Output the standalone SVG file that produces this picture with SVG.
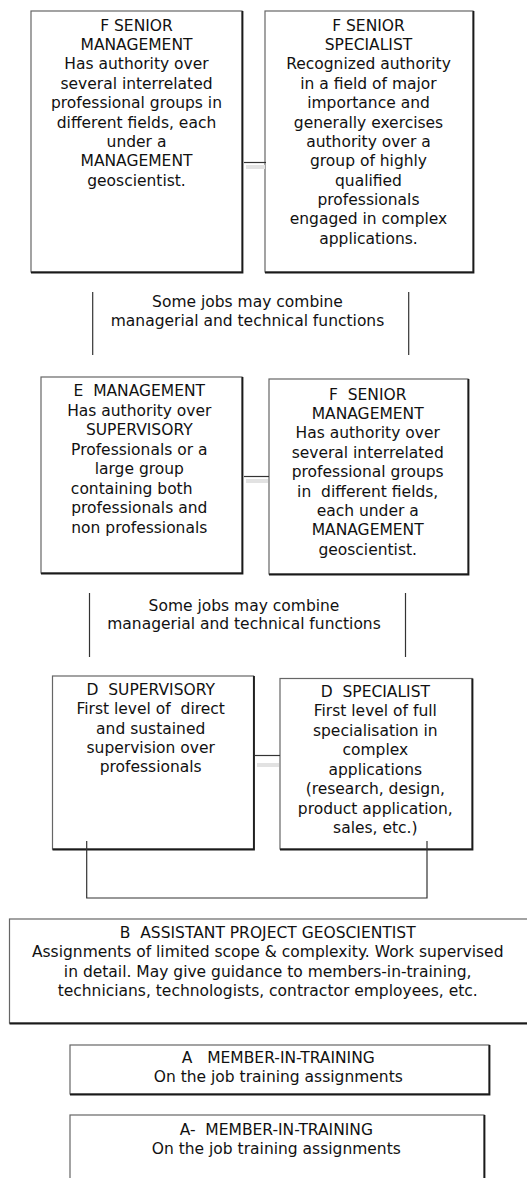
<svg xmlns="http://www.w3.org/2000/svg" width="527" height="1178" viewBox="0 0 527 1178">
<style>
  .box { fill: #ffffff; stroke: #666666; stroke-width: 1.2; }
  .edge { fill: none; stroke: #1a1a1a; stroke-width: 1.8; }
  .line { fill: none; stroke: #333333; stroke-width: 1.2; }
  .soft { fill: none; stroke: #e2e2e2; stroke-width: 4; }
  text { font-family: "DejaVu Sans", Verdana, sans-serif; font-size: 15.5px; fill: #111111; text-anchor: middle; white-space: pre; }
</style>
<rect width="527" height="1178" fill="#ffffff"/>

<g id="f-senior-management">
  <rect class="box" x="31" y="11" width="211" height="261"/>
  <path class="edge" d="M242.5,11 V272.5 H31"/>
  <text x="136.5" y="30.5">F SENIOR<tspan x="136.5" dy="19.4">MANAGEMENT</tspan><tspan x="136.5" dy="19.4">Has authority over</tspan><tspan x="136.5" dy="19.4">several interrelated</tspan><tspan x="136.5" dy="19.4">professional groups in</tspan><tspan x="136.5" dy="19.4">different fields, each</tspan><tspan x="136.5" dy="19.4">under a</tspan><tspan x="136.5" dy="19.4">MANAGEMENT</tspan><tspan x="136.5" dy="19.4">geoscientist.</tspan></text>
</g>

<g id="f-senior-specialist">
  <rect class="box" x="265" y="11" width="208" height="261"/>
  <path class="edge" d="M473.5,11 V272.5 H265"/>
  <text x="368.5" y="30.5">F SENIOR<tspan x="368.5" dy="19.4">SPECIALIST</tspan><tspan x="368.5" dy="19.4">Recognized authority</tspan><tspan x="368.5" dy="19.4">in a field of major</tspan><tspan x="368.5" dy="19.4">importance and</tspan><tspan x="368.5" dy="19.4">generally exercises</tspan><tspan x="368.5" dy="19.4">authority over a</tspan><tspan x="368.5" dy="19.4">group of highly</tspan><tspan x="368.5" dy="19.4">qualified</tspan><tspan x="368.5" dy="19.4">professionals</tspan><tspan x="368.5" dy="19.4">engaged in complex</tspan><tspan x="368.5" dy="19.4">applications.</tspan></text>
</g>

<g id="e-management">
  <rect class="box" x="41" y="377" width="201" height="196"/>
  <path class="edge" d="M242.5,377 V573.5 H41"/>
  <text x="139.3" y="396.2">E  MANAGEMENT<tspan x="139.3" dy="19.5">Has authority over</tspan><tspan x="139.3" dy="19.5">SUPERVISORY</tspan><tspan x="139.3" dy="19.5">Professionals or a</tspan><tspan x="139.3" dy="19.5">large group</tspan><tspan x="131.7" dy="19.5">containing both</tspan><tspan x="139.3" dy="19.5">professionals and</tspan><tspan x="139.3" dy="19.5">non professionals</tspan></text>
</g>

<g id="f-senior-management-2">
  <rect class="box" x="269" y="379" width="199" height="195"/>
  <path class="edge" d="M468.5,379 V574.5 H269"/>
  <text x="367.7" y="399.5">F  SENIOR<tspan x="367.7" dy="19.4">MANAGEMENT</tspan><tspan x="367.7" dy="19.4">Has authority over</tspan><tspan x="367.7" dy="19.4">several interrelated</tspan><tspan x="367.7" dy="19.4">professional groups</tspan><tspan x="367.7" dy="19.4">in  different fields,</tspan><tspan x="367.7" dy="19.4">each under a</tspan><tspan x="367.7" dy="19.4">MANAGEMENT</tspan><tspan x="367.7" dy="19.4">geoscientist.</tspan></text>
</g>

<g id="d-supervisory">
  <rect class="box" x="52.5" y="676" width="201" height="173"/>
  <path class="edge" d="M254,676 V849.5 H52.5"/>
  <text x="150.7" y="694.8">D  SUPERVISORY<tspan x="150.7" dy="19.4">First level of  direct</tspan><tspan x="150.7" dy="19.4">and sustained</tspan><tspan x="150.7" dy="19.4">supervision over</tspan><tspan x="150.7" dy="19.4">professionals</tspan></text>
</g>

<g id="d-specialist">
  <rect class="box" x="280" y="678.5" width="192" height="170.5"/>
  <path class="edge" d="M472.5,678.5 V849.5 H280"/>
  <text x="375.3" y="696.5">D  SPECIALIST<tspan x="375.3" dy="19.5">First level of full</tspan><tspan x="375.3" dy="19.5">specialisation in</tspan><tspan x="375.3" dy="19.5">complex</tspan><tspan x="375.3" dy="19.5">applications</tspan><tspan x="375.3" dy="19.5">(research, design,</tspan><tspan x="375.3" dy="19.5">product application,</tspan><tspan x="375.3" dy="19.5">sales, etc.)</tspan></text>
</g>

<g id="b-assistant">
  <rect class="box" x="9.5" y="919" width="525" height="104"/>
  <path class="edge" d="M534,1023.5 H9.5"/>
  <text x="267.7" y="937.8">B  ASSISTANT PROJECT GEOSCIENTIST<tspan x="267.7" dy="19.4">Assignments of limited scope &amp; complexity. Work supervised</tspan><tspan x="267.7" dy="19.4">in detail. May give guidance to members-in-training,</tspan><tspan x="267.7" dy="19.4">technicians, technologists, contractor employees, etc.</tspan></text>
</g>

<g id="a-member">
  <rect class="box" x="70" y="1045" width="419" height="49"/>
  <path class="edge" d="M489.5,1045 V1094.5 H70"/>
  <text x="278.3" y="1063.2">A   MEMBER-IN-TRAINING<tspan x="278.3" dy="19">On the job training assignments</tspan></text>
</g>

<g id="a-minus-member">
  <rect class="box" x="70" y="1115" width="414" height="80"/>
  <path class="edge" d="M484.5,1115 V1180"/>
  <text x="276.3" y="1134.8">A-  MEMBER-IN-TRAINING<tspan x="276.3" dy="19">On the job training assignments</tspan></text>
</g>

<g id="connectors">
  <line class="soft" x1="246" y1="167" x2="265" y2="167"/>
  <line class="line" x1="244" y1="162.5" x2="266" y2="162.5"/>
  <line class="line" x1="92.7" y1="292" x2="92.7" y2="355"/>
  <line class="line" x1="408.7" y1="292" x2="408.7" y2="355"/>
  <line class="soft" x1="246" y1="481" x2="268" y2="481"/>
  <line class="line" x1="244" y1="476.5" x2="269" y2="476.5"/>
  <line class="line" x1="89.5" y1="593" x2="89.5" y2="657"/>
  <line class="line" x1="405.5" y1="593" x2="405.5" y2="657"/>
  <line class="soft" x1="257" y1="765" x2="279" y2="765"/>
  <line class="line" x1="255" y1="755.5" x2="280" y2="755.5"/>
  <path class="line" d="M86.7,841 V898 H427 V841"/>
  <text x="247.5" y="307">Some jobs may combine</text>
  <text x="247.5" y="326">managerial and technical functions</text>
  <text x="244" y="610.5">Some jobs may combine</text>
  <text x="244" y="629">managerial and technical functions</text>
</g>
</svg>
